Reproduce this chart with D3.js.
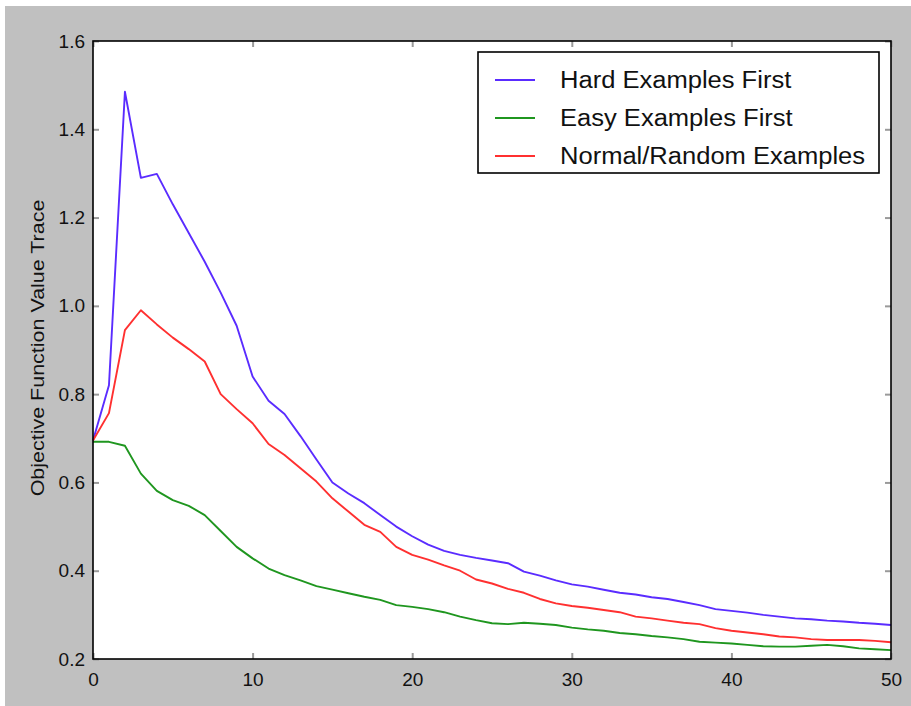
<!DOCTYPE html>
<html>
<head>
<meta charset="utf-8">
<script src="https://cdn.jsdelivr.net/npm/d3@7"></script>
<style>
  html, body { margin: 0; padding: 0; background: #ffffff; }
  svg { display: block; }
  text { font-family: "Liberation Sans", Arial, Helvetica, sans-serif; fill: #111; }
</style>
</head>
<body>
<svg id="chart" width="911" height="706"></svg>
<script>
// Training epochs on the x axis
const epochs = d3.range(0, 51);

// Objective value per epoch for each ordering strategy
const hardFirst = [
  0.695, 0.82, 1.485, 1.29, 1.299, 1.23, 1.165, 1.10, 1.03, 0.955,
  0.84, 0.785, 0.755, 0.705, 0.652, 0.600, 0.575, 0.553, 0.526, 0.50,
  0.478, 0.459, 0.445, 0.436, 0.429, 0.423, 0.417, 0.398, 0.389, 0.378,
  0.369, 0.364, 0.357, 0.350, 0.346, 0.340, 0.336, 0.329, 0.322, 0.313,
  0.309, 0.305, 0.300, 0.296, 0.292, 0.290, 0.287, 0.285, 0.282, 0.280,
  0.277
];
const easyFirst = [
  0.692, 0.692, 0.683, 0.62, 0.581, 0.56, 0.547, 0.526, 0.490, 0.454,
  0.428, 0.405, 0.390, 0.378, 0.365, 0.357, 0.349, 0.341, 0.334, 0.322,
  0.318, 0.313, 0.306, 0.296, 0.288, 0.281, 0.279, 0.282, 0.280, 0.277,
  0.271, 0.267, 0.264, 0.259, 0.256, 0.252, 0.249, 0.245, 0.239, 0.237,
  0.235, 0.232, 0.229, 0.228, 0.228, 0.230, 0.232, 0.229, 0.224, 0.222,
  0.220
];
const normalRandom = [
  0.695, 0.757, 0.945, 0.99, 0.958, 0.928, 0.902, 0.874, 0.80, 0.766,
  0.734, 0.687, 0.662, 0.632, 0.602, 0.564, 0.534, 0.504, 0.488, 0.454,
  0.436, 0.425, 0.412, 0.400, 0.380, 0.371, 0.359, 0.350, 0.336, 0.326,
  0.320, 0.316, 0.311, 0.306, 0.296, 0.292, 0.287, 0.282, 0.279, 0.270,
  0.264, 0.260, 0.256, 0.251, 0.249, 0.245, 0.243, 0.243, 0.243, 0.241,
  0.238
];

const seriesNames = ["Hard Examples First", "Easy Examples First", "Normal/Random Examples"];
const seriesColors = ["#5a2cff", "#1f961f", "#ff3030"];
const xTicks = [0, 10, 20, 30, 40, 50];
const yTicks = [0.2, 0.4, 0.6, 0.8, 1.0, 1.2, 1.4, 1.6];
const yLabel = "Objective Function Value Trace";

const svg = d3.select("#chart");
const W = 911, H = 706;

// grey figure background
svg.append("rect").attr("x", 5).attr("y", 6).attr("width", W - 5).attr("height", H - 6)
  .attr("fill", "#c0c0c0");

const plot = { left: 93, right: 891, top: 41, bottom: 659 };

const x = d3.scaleLinear().domain([0, 50]).range([plot.left, plot.right]);
const y = d3.scaleLinear().domain([0.2, 1.6]).range([plot.bottom, plot.top]);

// white axes area
svg.append("rect")
  .attr("x", plot.left).attr("y", plot.top)
  .attr("width", plot.right - plot.left).attr("height", plot.bottom - plot.top)
  .attr("fill", "#ffffff");

// widen glyph runs a little, Helvetica-style
function widen(sel, factor) {
  sel.each(function () {
    const w = this.getComputedTextLength();
    d3.select(this).attr("textLength", w * factor).attr("lengthAdjust", "spacingAndGlyphs");
  });
}

// inward tick marks on all four sides
const tickLen = 6;
const tickColor = "#9a9a9a";
function styleTicks(g) {
  g.select(".domain").remove();
  g.selectAll(".tick line").attr("stroke", tickColor).attr("stroke-width", 2);
}
svg.append("g").attr("transform", `translate(0,${plot.bottom})`)
  .call(d3.axisBottom(x).tickValues(xTicks).tickSize(-tickLen).tickPadding(14).tickFormat(d3.format("d")))
  .call(styleTicks)
  .call(g => g.selectAll(".tick text").attr("font-size", 19).attr("fill", "#111")
    .attr("font-family", "Liberation Sans, Arial, sans-serif"));
svg.append("g").attr("transform", `translate(0,${plot.top})`)
  .call(d3.axisTop(x).tickValues(xTicks).tickSize(-tickLen).tickFormat(""))
  .call(styleTicks);
svg.append("g").attr("transform", `translate(${plot.left},0)`)
  .call(d3.axisLeft(y).tickValues(yTicks).tickSize(-tickLen).tickPadding(8).tickFormat(d3.format(".1f")))
  .call(styleTicks)
  .call(g => g.selectAll(".tick text").attr("font-size", 19).attr("fill", "#111")
    .attr("font-family", "Liberation Sans, Arial, sans-serif"));
svg.append("g").attr("transform", `translate(${plot.right},0)`)
  .call(d3.axisRight(y).tickValues(yTicks).tickSize(-tickLen).tickFormat(""))
  .call(styleTicks);

// series lines
const allSeries = [hardFirst, easyFirst, normalRandom];
const line = d3.line().x((d, i) => x(epochs[i])).y(d => y(d));
svg.append("g")
  .selectAll("path").data(allSeries).join("path")
  .attr("d", d => line(d))
  .attr("fill", "none")
  .attr("stroke", (d, i) => seriesColors[i])
  .attr("stroke-width", 1.9)
  .attr("stroke-linejoin", "round");

// axes frame
svg.append("rect")
  .attr("x", plot.left).attr("y", plot.top)
  .attr("width", plot.right - plot.left).attr("height", plot.bottom - plot.top)
  .attr("fill", "none").attr("stroke", "#000").attr("stroke-width", 1.6);

// y axis title
svg.append("text")
  .attr("transform", `translate(44,${(plot.top + plot.bottom) / 2 - 2}) rotate(-90)`)
  .attr("text-anchor", "middle")
  .attr("font-size", 19)
  .text(yLabel)
  .call(widen, 1.13);

// legend
const legend = svg.append("g").attr("transform", "translate(478,52)");
legend.append("rect").attr("width", 401).attr("height", 121)
  .attr("fill", "#ffffff").attr("stroke", "#000").attr("stroke-width", 1.6);
const rows = legend.selectAll("g.row").data(seriesNames).join("g")
  .attr("class", "row")
  .attr("transform", (d, i) => `translate(0,${28 + i * 38})`);
rows.append("line").attr("x1", 17).attr("x2", 57).attr("y1", 0).attr("y2", 0)
  .attr("stroke", (d, i) => seriesColors[i]).attr("stroke-width", 1.9);
rows.append("text").attr("x", 82).attr("y", 0).attr("dy", "0.36em")
  .attr("font-size", 23).text(d => d)
  .call(widen, 1.11);
</script>
</body>
</html>
